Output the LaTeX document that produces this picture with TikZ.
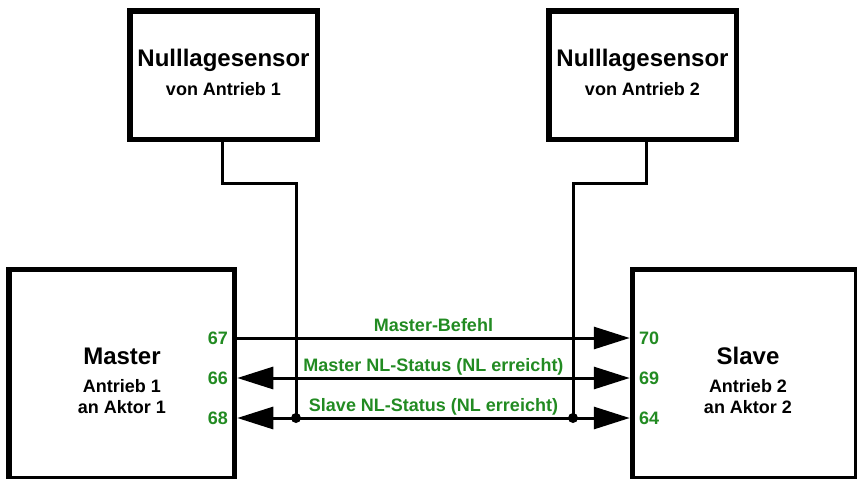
\documentclass[tikz,border=0pt]{standalone}
\usepackage{fontspec}
\setmainfont{Liberation Sans}
\usepackage{tikz}
\usetikzlibrary{arrows.meta, positioning, calc}
\definecolor{mygreen}{RGB}{34,139,34}
\definecolor{mydark}{RGB}{0,0,0}
\newcommand{\boxtitle}[1]{{\fontsize{24}{28}\selectfont #1}}
\tikzset{
  unitbox/.style={rectangle, draw=mydark, fill=white, line width=5.5pt,
    inner sep=0pt},
  boxtext/.style={align=center, inner sep=0pt, text=mydark,
    font=\fontsize{18}{21}\selectfont\bfseries},
  pinlabel/.style={inner sep=0pt, text=mygreen,
    font=\fontsize{18}{21}\selectfont\bfseries},
  siglabel/.style={anchor=base, yshift=7pt, inner sep=0pt, text=mygreen,
    font=\fontsize{18}{21}\selectfont\bfseries},
  sigarrow/.style={-{Triangle[length=36pt,width=22pt]}, line width=3pt, color=mydark},
  sigboth/.style={{Triangle[length=36pt,width=22pt]}-{Triangle[length=36pt,width=22pt]},
    line width=3pt, color=mydark},
  wire/.style={line width=3pt, color=mydark},
  junction/.style={circle, fill=mydark, minimum size=10pt, inner sep=0pt}
}

\begin{document}
\begin{tikzpicture}[x=1pt, y=-1pt]
  \useasboundingbox (0,0) rectangle (857,479);
  % Nulllagesensoren
  \node[unitbox, minimum width=187.5pt, minimum height=128.5pt] (sens1) at (223.5,75) {};
  \node[boxtext] (sens1txt) at (223.5,72.2) {\boxtitle{Nulllagesensor}\\[8pt]von Antrieb 1};
  \node[unitbox, minimum width=187.5pt, minimum height=128.5pt] (sens2) at (642.5,75) {};
  \node[boxtext] (sens2txt) at (642.5,72.2) {\boxtitle{Nulllagesensor}\\[8pt]von Antrieb 2};
  % Master
  \node[unitbox, minimum width=225.5pt, minimum height=209pt] (master) at (121.75,374) {};
  \node[boxtext] (mastertxt) at (122,380.4) {\boxtitle{Master}\\[7pt]Antrieb 1\\an Aktor 1};
  % Slave
  \node[unitbox, minimum width=224pt, minimum height=209pt] (slave) at (744.5,374) {};
  \node[boxtext] (slavetxt) at (748,380.4) {\boxtitle{Slave}\\[7pt]Antrieb 2\\an Aktor 2};
  % Klemmen
  \node[pinlabel, anchor=east] (p67) at (228,338) {67};
  \node[pinlabel, anchor=east] (p66) at (228,378) {66};
  \node[pinlabel, anchor=east] (p68) at (228,418) {68};
  \node[pinlabel, anchor=west] (p70) at (639,338) {70};
  \node[pinlabel, anchor=west] (p69) at (639,378) {69};
  \node[pinlabel, anchor=west] (p64) at (639,418) {64};
  % Signale
  \draw[sigarrow] (master.east |- p67) -- node[siglabel] (cmd) {Master-Befehl} (slave.west |- p70);
  \draw[sigboth] (master.east |- p66) -- node[siglabel] (mstat) {Master NL-Status (NL erreicht)} (slave.west |- p69);
  \draw[sigboth] (master.east |- p68) -- node[siglabel] (sstat) {Slave NL-Status (NL erreicht)} (slave.west |- p64);
  % Sensorleitungen
  \node[junction] (j1) at (296,418) {};
  \node[junction] (j2) at (573,418) {};
  \draw[wire] ([xshift=-1.5pt]sens1.south) -- ++(0,41) -| (j1.center);
  \draw[wire] ([xshift=4pt]sens2.south) -- ++(0,41) -| (j2.center);
\end{tikzpicture}
\end{document}
